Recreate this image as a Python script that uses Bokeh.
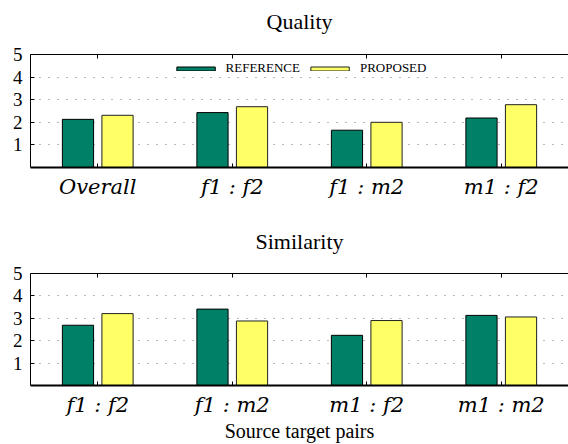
from bokeh.plotting import figure
from bokeh.models import (FactorRange, Range1d, FixedTicker, CategoricalAxis,
                          Legend, LegendItem, ColumnDataSource)
from bokeh.layouts import column
from bokeh.transform import dodge
from bokeh.embed import file_html
from bokeh.resources import INLINE

# ---- data ----
quality_cats = ["Overall", "f1 : f2", "f1 : m2", "m1 : f2"]
quality_reference = [2.13, 2.43, 1.65, 2.19]
quality_proposed = [2.31, 2.69, 2.00, 2.78]

similarity_cats = ["f1 : f2", "f1 : m2", "m1 : f2", "m1 : m2"]
similarity_reference = [2.69, 3.41, 2.24, 3.13]
similarity_proposed = [3.21, 2.88, 2.90, 3.06]

y_ticks = [1, 2, 3, 4, 5]
grid_ticks = [1, 2, 3, 4]

GREEN = "#008066"
YELLOW = "#FFFF66"
SERIF = "Liberation Serif"
MATH = "DejaVu Serif"


def make_panel(title, cats, ref, prop, height, top, bottom, gap,
               xlabel=None, legend=False):
    src = ColumnDataSource(dict(x=cats, ref=ref, prop=prop))
    p = figure(x_range=FactorRange(*cats, range_padding=0), y_range=Range1d(0, 5),
               width=568, height=height, output_backend="svg", toolbar_location=None,
               min_border_left=30, min_border_right=0, min_border_top=top,
               min_border_bottom=bottom)
    p.title.text = title
    p.title.align = "center"
    p.title.vertical_align = "bottom"
    p.title.text_font = SERIF
    p.title.text_font_style = "normal"
    p.title.text_font_size = "22px"
    p.title.text_color = "black"
    p.title.standoff = 6

    r1 = p.vbar(x=dodge("x", -0.147, range=p.x_range), top="ref", width=0.232, source=src,
                fill_color=GREEN, line_color="black", line_width=1)
    r2 = p.vbar(x=dodge("x", 0.147, range=p.x_range), top="prop", width=0.232, source=src,
                fill_color=YELLOW, line_color="#222222", line_width=1)

    p.outline_line_color = None
    p.xgrid.grid_line_color = None
    p.ygrid.ticker = FixedTicker(ticks=grid_ticks)
    p.ygrid.grid_line_color = "#333333"
    p.ygrid.grid_line_alpha = 0.7
    p.ygrid.grid_line_dash = "1 8"

    xa = p.xaxis[0]
    xa.major_tick_in = 4
    xa.major_tick_out = 0
    xa.axis_line_width = 2
    xa.axis_line_color = "black"
    xa.major_label_text_font = MATH
    xa.major_label_text_font_style = "italic"
    xa.major_label_text_font_size = "21px"
    xa.major_label_text_color = "black"
    xa.major_label_standoff = 7
    if xlabel:
        xa.axis_label = xlabel
        xa.axis_label_text_font = SERIF
        xa.axis_label_text_font_style = "normal"
        xa.axis_label_text_font_size = "20px"
        xa.axis_label_text_color = "black"
        xa.axis_label_standoff = 0

    ya = p.yaxis[0]
    ya.ticker = FixedTicker(ticks=y_ticks)
    ya.major_tick_in = 4
    ya.major_tick_out = 0
    ya.minor_tick_line_color = None
    ya.major_label_text_font = SERIF
    ya.major_label_text_font_size = "19px"
    ya.major_label_text_color = "black"
    ya.major_label_standoff = 8
    ya.axis_line_color = "black"

    # top frame edge with inward ticks
    top_ax = CategoricalAxis(major_tick_in=4, major_tick_out=0, major_label_text_font_size="1px",
                             major_label_text_color=None, major_label_standoff=0,
                             axis_line_color="black")
    p.add_layout(top_ax, "above")
    # invisible spacer between frame and title
    spacer = CategoricalAxis(major_tick_in=0, major_tick_out=gap, major_tick_line_color=None,
                             axis_line_color=None, major_label_text_font_size="1px",
                             major_label_text_color=None, major_label_standoff=0)
    p.add_layout(spacer, "above")

    if legend:
        lg = Legend(items=[LegendItem(label="REFERENCE", renderers=[r1]),
                           LegendItem(label="PROPOSED", renderers=[r2])],
                    orientation="horizontal", location="top_center",
                    glyph_width=48, glyph_height=5, label_text_font=SERIF,
                    label_text_font_size="13px", label_text_color="black",
                    label_standoff=6, spacing=6, padding=2, margin=6,
                    border_line_color=None, background_fill_alpha=0, label_height=12)
        p.add_layout(lg)
    return p


p1 = make_panel("Quality", quality_cats, quality_reference, quality_proposed,
                205, 54, 38, 18, legend=True)
p2 = make_panel("Similarity", similarity_cats, similarity_reference, similarity_proposed,
                239, 68, 57, 17, xlabel="Source target pairs")

layout = column(p1, p2, spacing=0)
open("out.html", "w").write(file_html(layout, INLINE))
